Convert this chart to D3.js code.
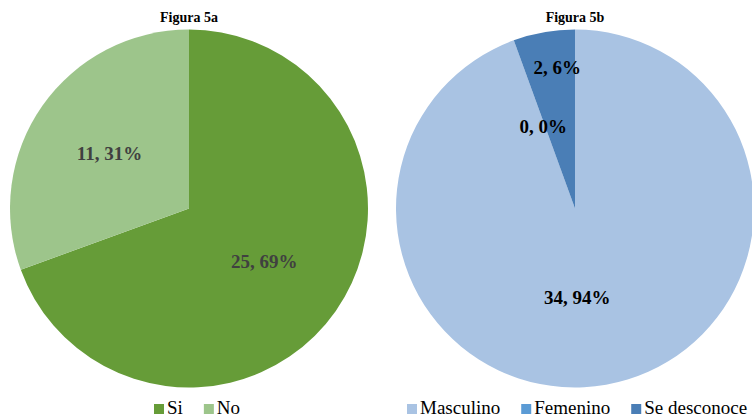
<!DOCTYPE html>
<meta charset="utf-8">
<script src="https://d3js.org/d3.v7.min.js"></script>
<style>
  body { margin: 0; background: #fff; }
  text { font-family: "Liberation Serif", "Times New Roman", serif; }
</style>
<body>
<div id="chart"></div>
<script>
// Figura 5a
var catsA = ["Si", "No"];
var valsA = [25, 11];
var pctA = ["69%", "31%"];
var colorsA = ["#669c38", "#9dc58b"];

// Figura 5b
var catsB = ["Masculino", "Femenino", "Se desconoce"];
var valsB = [34, 0, 2];
var pctB = ["94%", "0%", "6%"];
var colorsB = ["#a9c3e3", "#5b9bd5", "#4a7eb6"];

var width = 752, height = 419;
var svg = d3.select("#chart").append("svg")
    .attr("width", width)
    .attr("height", height);

var R = 179;

function drawPie(cx, cy, title, cats, vals, pcts, colors, labelColor, labelR, labelShift, legendX) {
    var g = svg.append("g").attr("transform", "translate(" + cx + "," + cy + ")");
    var data = cats.map(function (c, i) { return { cat: c, value: vals[i], pct: pcts[i], i: i }; });

    var pie = d3.pie().sort(null).value(function (d) { return d.value; });
    var arc = d3.arc().innerRadius(0).outerRadius(R);
    var arcs = pie(data);

    g.selectAll("path")
        .data(arcs)
        .enter()
        .append("path")
        .attr("d", arc)
        .attr("fill", function (d) { return colors[d.data.i]; });

    // labels: value, percent
    g.selectAll("text.lbl")
        .data(arcs)
        .enter()
        .append("text")
        .attr("class", "lbl")
        .attr("transform", function (d) {
            var r = labelR[d.data.i];
            var a = (d.startAngle + d.endAngle) / 2 + labelShift[d.data.i];
            return "translate(" + (Math.sin(a) * r) + "," + (-Math.cos(a) * r) + ")";
        })
        .attr("text-anchor", "middle")
        .attr("dy", "0.35em")
        .style("font-size", "19px")
        .style("font-weight", "bold")
        .style("fill", labelColor)
        .text(function (d) { return d.data.value + ", " + d.data.pct; });

    svg.append("text")
        .attr("x", cx)
        .attr("y", 22)
        .attr("text-anchor", "middle")
        .style("font-size", "14px")
        .style("font-weight", "bold")
        .text(title);

    // legend
    var lg = svg.append("g").attr("transform", "translate(" + legendX + ",0)");
    var x = 0;
    cats.forEach(function (c, i) {
        lg.append("rect")
            .attr("x", x).attr("y", 404)
            .attr("width", 10).attr("height", 10)
            .attr("fill", colors[i]);
        var t = lg.append("text")
            .attr("x", x + 13).attr("y", 414)
            .style("font-size", "19px")
            .text(c);
        x += 13 + t.node().getComputedTextLength() + 21;
    });
}

drawPie(189, 208.5, "Figura 5a", catsA, valsA, pctA, colorsA, "#404040", [92, 97], [0, 0], 154);
drawPie(575, 208.5, "Figura 5b", catsB, valsB, pctB, colorsB, "#000", [89, 88, 142], [0.15, -0.02, 0.05], 407);
</script>
</body>
